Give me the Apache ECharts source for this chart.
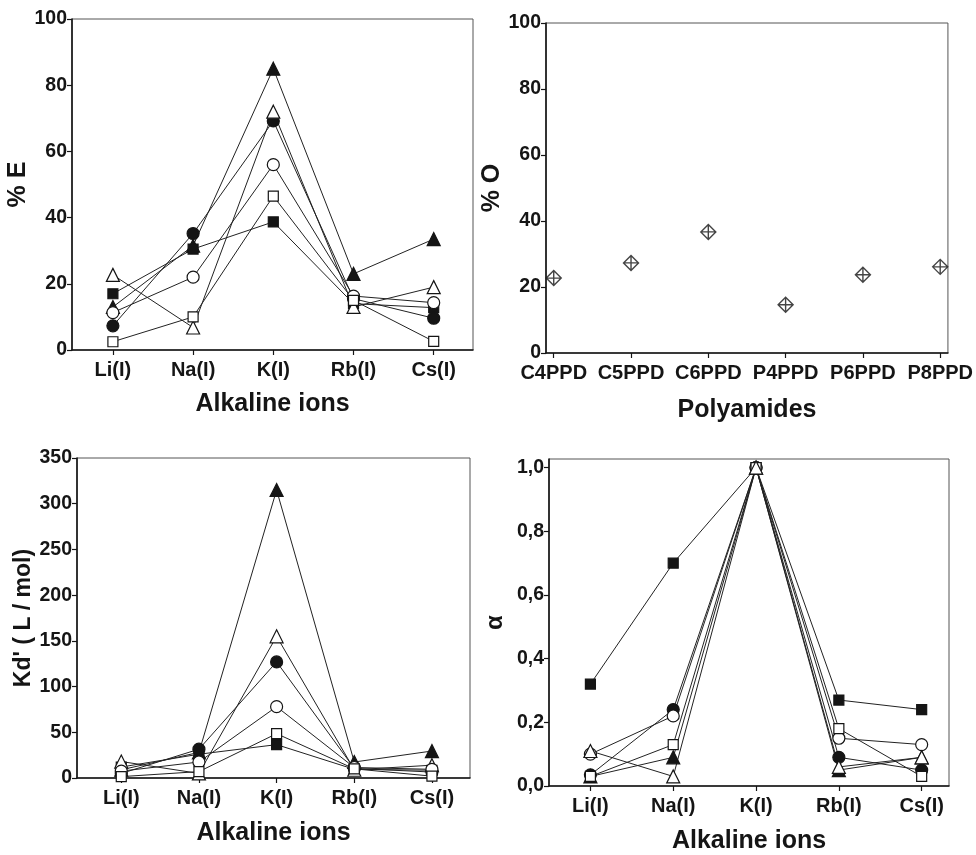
<!DOCTYPE html>
<html>
<head>
<meta charset="utf-8">
<script src="https://cdn.jsdelivr.net/npm/echarts@6/dist/echarts.min.js"></script>
<style>
  html, body { margin: 0; padding: 0; background: #fff; }
  #main { width: 976px; height: 855px; }
</style>
</head>
<body>
<div id="main"></div>
<script>
// categories
var ions = ['Li(I)', 'Na(I)', 'K(I)', 'Rb(I)', 'Cs(I)'];
var polyamides = ['C4PPD', 'C5PPD', 'C6PPD', 'P4PPD', 'P6PPD', 'P8PPD'];

// % E  (top left)
var eTriFilled = [13, 31.5, 85, 23, 33.5];
var eCircFilled = [7.3, 35.2, 69.2, 15.5, 9.6];
var eSqFilled = [17, 30.5, 38.7, 14, 12.8];
var eTriOpen = [22.7, 6.8, 72, 13, 19];
var eCircOpen = [11.3, 22, 56, 16.3, 14.3];
var eSqOpen = [2.5, 10, 46.5, 15, 2.6];

// % O  (top right)
var oValues = [22.7, 27.3, 36.7, 14.6, 23.7, 26.1];

// Kd' (bottom left)
var kdTriFilled = [9, 28, 315, 17.5, 29.5];
var kdCircFilled = [5, 31.5, 127, 10.5, 6.5];
var kdSqFilled = [12, 26, 36.5, 9.5, 8.5];
var kdTriOpen = [18, 5, 155, 9, 14];
var kdCircOpen = [7.5, 17.5, 78, 11.5, 9.5];
var kdSqOpen = [1.5, 7, 48.5, 10, 2];

// alpha (bottom right)
var aTriFilled = [0.03, 0.09, 1, 0.05, 0.09];
var aCircFilled = [0.035, 0.24, 1, 0.09, 0.05];
var aSqFilled = [0.32, 0.70, 1, 0.27, 0.24];
var aTriOpen = [0.11, 0.03, 1, 0.06, 0.09];
var aCircOpen = [0.10, 0.22, 1, 0.15, 0.13];
var aSqOpen = [0.03, 0.13, 1, 0.18, 0.03];

var alphaTicks = [0, 0.2, 0.4, 0.6, 0.8, 1.0];

var FONT = '"Liberation Sans", Arial, sans-serif';
var INK = '#151515';

function pairs(arr) {
    return arr.map(function (v, i) { return [i, v]; });
}

var markers = {
    triFilled: { symbol: 'triangle', size: 13, fill: INK },
    circFilled: { symbol: 'circle', size: 12, fill: INK },
    sqFilled: { symbol: 'rect', size: 10, fill: INK },
    triOpen: { symbol: 'triangle', size: 13, fill: '#fff' },
    circOpen: { symbol: 'circle', size: 12, fill: '#fff' },
    sqOpen: { symbol: 'rect', size: 10, fill: '#fff' }
};

function lineSeries(idx, kind, values) {
    var m = markers[kind];
    return {
        type: 'line',
        name: kind,
        xAxisIndex: idx,
        yAxisIndex: idx,
        data: pairs(values),
        symbol: m.symbol,
        symbolSize: m.size,
        showAllSymbol: true,
        clip: false,
        lineStyle: { color: '#222', width: 1 },
        itemStyle: { color: m.fill, borderColor: INK, borderWidth: 1.2 },
        emphasis: { disabled: true },
        animation: false
    };
}

function xAxisFor(idx, names, min, max, title, gap) {
    var ticks = names.map(function (n, i) { return i; });
    return {
        gridIndex: idx,
        type: 'value',
        min: min,
        max: max,
        name: title,
        nameLocation: 'middle',
        nameGap: gap,
        nameTextStyle: { fontFamily: FONT, fontWeight: 'bold', fontSize: 25, color: INK },
        axisLine: { show: true, onZero: false, lineStyle: { color: INK, width: 1.6 } },
        axisTick: { show: true, inside: false, length: 5, customValues: ticks, lineStyle: { color: INK, width: 1.2 } },
        axisLabel: {
            customValues: ticks,
            margin: 10,
            fontFamily: FONT, fontWeight: 'bold', fontSize: 20, color: INK,
            formatter: function (v) { return names[Math.round(v)]; }
        },
        splitLine: { show: false }
    };
}

function yAxisFor(idx, min, max, interval, title, gap, fontSize) {
    return {
        gridIndex: idx,
        type: 'value',
        min: min,
        max: max,
        interval: interval,
        name: title,
        nameLocation: 'middle',
        nameGap: gap,
        nameTextStyle: { fontFamily: FONT, fontWeight: 'bold', fontSize: fontSize, color: INK },
        axisLine: { show: true, onZero: false, lineStyle: { color: INK, width: 1.6 } },
        axisTick: { show: true, inside: false, length: 5, lineStyle: { color: INK, width: 1.2 } },
        axisLabel: { margin: 5, fontFamily: FONT, fontWeight: 'bold', fontSize: 19.5, color: INK },
        splitLine: { show: false }
    };
}

var gridBox = { show: true, borderColor: '#555', borderWidth: 1, backgroundColor: 'transparent' };

var alphaAxis = yAxisFor(3, 0, 1.027, null, 'α', 42, 24);
delete alphaAxis.interval;
alphaAxis.axisTick.customValues = alphaTicks;
alphaAxis.axisLabel.customValues = alphaTicks;
alphaAxis.axisLabel.formatter = function (v) { return v.toFixed(1).replace('.', ','); };

var myChart = echarts.init(document.getElementById('main'), null, { renderer: 'canvas' });

var option = {
    backgroundColor: '#fff',
    animation: false,
    grid: [
        Object.assign({ left: 72, top: 19, width: 401, height: 331 }, gridBox),
        Object.assign({ left: 546, top: 23, width: 404, height: 330 }, gridBox),
        Object.assign({ left: 77, top: 458, width: 393, height: 320 }, gridBox),
        Object.assign({ left: 549, top: 459, width: 400, height: 328 }, gridBox)
    ],
    xAxis: [
        xAxisFor(0, ions, -0.51, 4.49, 'Alkaline ions', 42),
        xAxisFor(1, polyamides, -0.1, 5.1, 'Polyamides', 45),
        xAxisFor(2, ions, -0.57, 4.49, 'Alkaline ions', 43),
        xAxisFor(3, ions, -0.5, 4.33, 'Alkaline ions', 43)
    ],
    yAxis: [
        yAxisFor(0, 0, 100, 20, '% E', 32, 25),
        yAxisFor(1, 0, 100, 20, '% O', 35, 25),
        yAxisFor(2, 0, 350, 50, "Kd' ( L / mol)", 42, 23),
        alphaAxis
    ],
    series: [
        // % E
        lineSeries(0, 'triFilled', eTriFilled),
        lineSeries(0, 'sqFilled', eSqFilled),
        lineSeries(0, 'circFilled', eCircFilled),
        lineSeries(0, 'triOpen', eTriOpen),
        lineSeries(0, 'circOpen', eCircOpen),
        lineSeries(0, 'sqOpen', eSqOpen),
        // % O
        {
            type: 'scatter',
            xAxisIndex: 1,
            yAxisIndex: 1,
            data: pairs(oValues),
            symbol: 'path://M10,0 L20,10 L10,20 L0,10 Z M10,0 L10,20 M0,10 L20,10',
            symbolSize: 15,
            clip: false,
            itemStyle: { color: '#fff', borderColor: INK, borderWidth: 1.4 },
            emphasis: { disabled: true }
        },
        // Kd'
        lineSeries(2, 'triFilled', kdTriFilled),
        lineSeries(2, 'sqFilled', kdSqFilled),
        lineSeries(2, 'circFilled', kdCircFilled),
        lineSeries(2, 'triOpen', kdTriOpen),
        lineSeries(2, 'circOpen', kdCircOpen),
        lineSeries(2, 'sqOpen', kdSqOpen),
        // alpha
        lineSeries(3, 'triFilled', aTriFilled),
        lineSeries(3, 'circFilled', aCircFilled),
        lineSeries(3, 'sqFilled', aSqFilled),
        lineSeries(3, 'circOpen', aCircOpen),
        lineSeries(3, 'sqOpen', aSqOpen),
        lineSeries(3, 'triOpen', aTriOpen)
    ]
};

myChart.setOption(option);
window.onresize = function () {
    myChart.resize();
};
</script>
</body>
</html>
